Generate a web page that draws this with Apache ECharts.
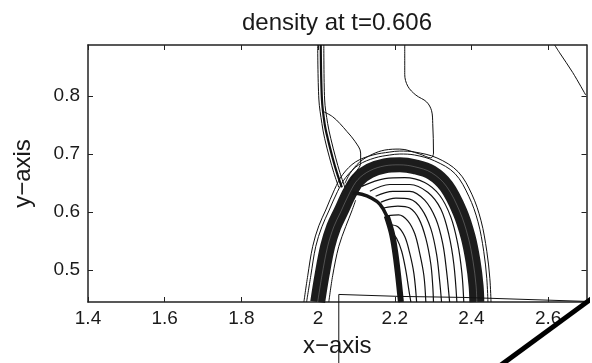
<!DOCTYPE html>
<html>
<head>
<meta charset="utf-8">
<script src="https://cdn.jsdelivr.net/npm/echarts@6/dist/echarts.min.js"></script>
<style>
  html, body { margin: 0; padding: 0; background: #fff; }
  #chart { width: 592px; height: 363px; }
</style>
</head>
<body>
<div id="chart"></div>
<script>
const xTicks = [1.4, 1.6, 1.8, 2, 2.2, 2.4, 2.6];
const yTicks = [0.5, 0.6, 0.7, 0.8];

// main shock: the dense band of contours is drawn as one thick stroke
const shockBand = [[1.999,0.4453],[2.010,0.4904],[2.025,0.5410],[2.041,0.5748],[2.059,0.6002],[2.083,0.6340],[2.104,0.6559],[2.135,0.6711],[2.174,0.6795],[2.213,0.6812],[2.252,0.6779],[2.296,0.6677],[2.335,0.6441],[2.370,0.6002],[2.391,0.5579],[2.404,0.5157],[2.412,0.4735],[2.414,0.4453]];
const shockOuter1 = [[1.970,0.4453],[1.981,0.4904],[1.994,0.5410],[2.010,0.5748],[2.028,0.6019],[2.051,0.6357],[2.072,0.6593],[2.106,0.6812],[2.148,0.6931],[2.187,0.6981],[2.213,0.6998],[2.252,0.6981],[2.304,0.6880],[2.357,0.6661],[2.393,0.6272],[2.417,0.5833],[2.432,0.5326],[2.440,0.4853],[2.443,0.4453]];
const shockOuter2 = [[1.963,0.4453],[1.973,0.4904],[1.986,0.5410],[2.002,0.5765],[2.020,0.6035],[2.043,0.6390],[2.064,0.6644],[2.098,0.6863],[2.143,0.6981],[2.187,0.7032],[2.213,0.7049],[2.252,0.7032],[2.310,0.6931],[2.365,0.6694],[2.401,0.6306],[2.425,0.5850],[2.440,0.5326],[2.448,0.4853],[2.451,0.4453]];
const shockInner = [[2.028,0.4453],[2.038,0.4904],[2.054,0.5410],[2.072,0.5748],[2.088,0.6019],[2.098,0.6204]];

// reflected shock (inner dark arc), heavier in its lower stem
const reflectedBand = [[2.090,0.6323],[2.114,0.6306],[2.140,0.6238],[2.161,0.6137],[2.179,0.5934],[2.192,0.5647],[2.200,0.5360],[2.208,0.4954],[2.216,0.4453]];
const reflectedStem = [[2.179,0.5934],[2.192,0.5647],[2.200,0.5360],[2.208,0.4954],[2.216,0.4453]];

// contours between the two shocks
const fanArcs = [
  [[2.114,0.6441],[2.174,0.6576],[2.226,0.6593],[2.278,0.6509],[2.317,0.6289],[2.346,0.5917],[2.364,0.5461],[2.375,0.4954],[2.380,0.4453]],
  [[2.135,0.6357],[2.187,0.6474],[2.239,0.6474],[2.286,0.6340],[2.320,0.6052],[2.341,0.5613],[2.354,0.5107],[2.362,0.4453]],
  [[2.150,0.6272],[2.195,0.6357],[2.239,0.6357],[2.278,0.6204],[2.307,0.5883],[2.325,0.5461],[2.335,0.4988],[2.343,0.4453]],
  [[2.164,0.6171],[2.203,0.6238],[2.239,0.6221],[2.270,0.6052],[2.294,0.5714],[2.309,0.5275],[2.317,0.4819],[2.322,0.4453]],
  [[2.171,0.6069],[2.208,0.6103],[2.239,0.6069],[2.263,0.5883],[2.281,0.5546],[2.294,0.5107],[2.299,0.4735],[2.301,0.4453]],
  [[2.179,0.5934],[2.210,0.5951],[2.234,0.5850],[2.252,0.5630],[2.265,0.5292],[2.276,0.4904],[2.281,0.4453]],
  [[2.187,0.5782],[2.208,0.5748],[2.226,0.5579],[2.239,0.5292],[2.250,0.4938],[2.257,0.4453]],
  [[2.192,0.5647],[2.205,0.5546],[2.218,0.5326],[2.229,0.4988],[2.237,0.4650],[2.242,0.4453]]
];

// slip line bundle from the top edge down to the triple point
const slipCenter = [[2.007,0.8873],[2.010,0.7944],[2.017,0.7522],[2.025,0.7269],[2.038,0.6931],[2.049,0.6677],[2.062,0.6424]];
const slipLeft = [[1.999,0.8873],[2.002,0.7944],[2.010,0.7522],[2.017,0.7269],[2.030,0.6931],[2.041,0.6677],[2.054,0.6424]];
const slipRight = [[2.015,0.8873],[2.017,0.7944],[2.025,0.7522],[2.033,0.7269],[2.046,0.6931],[2.057,0.6677],[2.070,0.6424]];

// single contours above the shock
const loopContour = [[2.015,0.7725],[2.038,0.7640],[2.057,0.7522],[2.075,0.7387],[2.096,0.7218],[2.111,0.7015],[2.111,0.6846],[2.093,0.6644],[2.075,0.6458]];
const capContour = [[2.226,0.8873],[2.226,0.8367],[2.234,0.8164],[2.255,0.8012],[2.283,0.7894],[2.296,0.7742],[2.299,0.7522],[2.301,0.7015],[2.294,0.6931],[2.265,0.6998],[2.213,0.7083],[2.174,0.7066],[2.143,0.6998],[2.109,0.6863],[2.083,0.6661],[2.070,0.6492]];
const cornerContour = [[2.617,0.8873],[2.630,0.8738],[2.664,0.8400],[2.698,0.8012]];

// stray strokes that leave the plot box
const strayTrace = [[2.054,0.3384],[2.054,0.4583],[2.213,0.4549],[2.378,0.4532],[2.698,0.4464]];
const strayBar = [[2.474,0.3355],[2.735,0.4617]];

const font = '"Liberation Sans", Arial, Helvetica, sans-serif';
const ink = '#111';

function line(data, width, extra) {
  return Object.assign({
    type: 'line',
    data: data,
    symbol: 'none',
    silent: true,
    smooth: 0.35,
    lineStyle: { color: ink, width: width },
    z: 3
  }, extra || {});
}

const series = [
  line(shockOuter2, 1),
  line(shockOuter1, 1),
  line(shockBand, 15, { lineStyle: { color: '#1c1c1c', width: 15 } }),
  // faint light streak so the band reads as packed contours
  line(shockBand, 0.8, { lineStyle: { color: 'rgba(255,255,255,0.3)', width: 0.8 } }),
  line(shockInner, 1),
  line(capContour, 1),
  line(loopContour, 1),
  line(cornerContour, 1),
  line(slipLeft, 1),
  line(slipRight, 1),
  line(slipCenter, 2.2)
];
fanArcs.forEach(function (arc) { series.push(line(arc, 1.2)); });
series.push(line(reflectedBand, 3.5, { lineStyle: { color: '#161616', width: 3.5 } }));
series.push(line(reflectedStem, 6, { lineStyle: { color: '#161616', width: 6 } }));
series.push(line(strayTrace, 1, { smooth: false, clip: false }));
series.push(line(strayBar, 5, { smooth: false, clip: false, lineStyle: { color: '#000', width: 5 } }));

function axisBase(extra) {
  return Object.assign({
    type: 'value',
    axisLine: { show: true, onZero: false, lineStyle: { color: '#222', width: 1.5 } },
    splitLine: { show: false },
    axisTick: { show: true, inside: true, length: 5, lineStyle: { color: '#222', width: 1 } },
    axisLabel: { show: false }
  }, extra);
}

const chart = echarts.init(document.getElementById('chart'), null, { renderer: 'canvas' });
chart.setOption({
  animation: false,
  backgroundColor: '#fff',
  grid: { left: 88, right: 5.5, top: 45, bottom: 56.3 },
  graphic: [{
    type: 'text',
    x: 337,
    y: 23,
    style: {
      text: 'density at t=0.606',
      fontSize: 24,
      fontFamily: font,
      fill: '#1a1a1a',
      align: 'center',
      verticalAlign: 'middle'
    }
  }],
  xAxis: [
    axisBase({
      position: 'bottom',
      min: 1.4, max: 2.7,
      name: 'x\u2212axis',
      nameLocation: 'middle',
      nameGap: 32,
      nameTextStyle: { fontSize: 24, fontFamily: font, color: '#1a1a1a' },
      axisTick: { show: true, inside: true, length: 5, customValues: xTicks, lineStyle: { color: '#222', width: 1 } },
      axisLabel: { show: true, customValues: xTicks, margin: 7, fontSize: 19, fontFamily: font, color: '#1a1a1a' }
    }),
    axisBase({
      position: 'top',
      min: 1.4, max: 2.7,
      axisTick: { show: true, inside: true, length: 5, customValues: xTicks, lineStyle: { color: '#222', width: 1 } }
    })
  ],
  yAxis: [
    axisBase({
      position: 'left',
      min: 0.4453, max: 0.8873,
      name: 'y\u2212axis',
      nameLocation: 'middle',
      nameGap: 53,
      nameRotate: 90,
      nameTextStyle: { fontSize: 24, fontFamily: font, color: '#1a1a1a' },
      axisTick: { show: true, inside: true, length: 5, customValues: yTicks, lineStyle: { color: '#222', width: 1 } },
      axisLabel: { show: true, customValues: yTicks, margin: 8, fontSize: 19, fontFamily: font, color: '#1a1a1a' }
    }),
    axisBase({
      position: 'right',
      min: 0.4453, max: 0.8873,
      axisTick: { show: true, inside: true, length: 5, customValues: yTicks, lineStyle: { color: '#222', width: 1 } }
    })
  ],
  series: series
});
</script>
</body>
</html>
